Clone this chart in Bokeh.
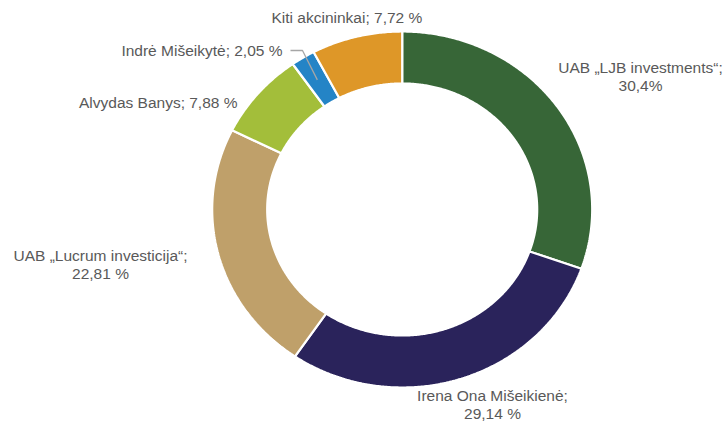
import numpy as np
from bokeh.plotting import figure
from bokeh.models import Range1d, ColumnDataSource
from bokeh.embed import file_html
from bokeh.resources import INLINE
from bokeh.core.properties import value

# ---- data ----
names = ["UAB „LJB investments“", "Irena Ona Mišeikienė", "UAB „Lucrum investicija“",
         "Alvydas Banys", "Indrė Mišeikytė", "Kiti akcininkai"]
shares = [30.4, 29.14, 22.81, 7.88, 2.05, 7.72]
label_texts = ["UAB „LJB investments“;\n30,4%", "Irena Ona Mišeikienė;\n29,14 %",
               "UAB „Lucrum investicija“;\n22,81 %", "Alvydas Banys; 7,88 %",
               "Indrė Mišeikytė; 2,05 %", "Kiti akcininkai; 7,72 %"]
colors = ["#376637", "#2A235B", "#BFA06A", "#A3BE3A", "#2484C6", "#DE9728"]

# ---- layout (pixel-like units, ring centre at origin) ----
W, H = 727, 424
CX, CY = 401.7, 209.0
RX_OUT, RY_OUT = 190.0, 178.0
RX_IN, RY_IN = 135.0, 126.0
# label anchors (page px) and alignment
lab_px = [(640, 76), (492, 404), (100, 264), (237, 102), (282, 50), (271, 17)]
lab_align = ["center", "center", "center", "right", "right", "left"]

p = figure(width=W, height=H, output_backend="svg", toolbar_location=None,
           x_range=Range1d(-CX, W - CX), y_range=Range1d(CY - H, CY),
           min_border=0)
p.axis.visible = False
p.grid.visible = False
p.outline_line_color = None
p.background_fill_color = "white"
p.border_fill_color = "white"

total = sum(shares)
frac = np.array(shares) / total
ends = np.cumsum(frac) * 2 * np.pi
starts = ends - frac * 2 * np.pi

xs, ys = [], []
for a0, a1 in zip(starts, ends):
    t = np.linspace(a0, a1, max(int((a1 - a0) * 120), 8))
    ox, oy = RX_OUT * np.sin(t), RY_OUT * np.cos(t)
    ix, iy = RX_IN * np.sin(t[::-1]), RY_IN * np.cos(t[::-1])
    xs.append(list(np.concatenate([ox, ix])))
    ys.append(list(np.concatenate([oy, iy])))

src = ColumnDataSource(dict(xs=xs, ys=ys, color=colors, name=names, share=shares))
p.patches("xs", "ys", source=src, fill_color="color", line_color="white", line_width=2.2)

# leader line for the small slice (Indrė)
k = 4
mid = (starts[k] + ends[k]) / 2
mx = (RX_OUT + RX_IN) / 2 * np.sin(mid)
my = (RY_OUT + RY_IN) / 2 * np.cos(mid)
p.line([mx, 302 - CX, 290 - CX], [my, CY - 50, CY - 50], line_color="#A6A6A6", line_width=1.3)

lx = [px - CX for px, py in lab_px]
ly = [CY - py for px, py in lab_px]
lsrc = ColumnDataSource(dict(x=lx, y=ly, text=label_texts, align=lab_align))
p.text("x", "y", text="text", source=lsrc, text_align="align", text_baseline="middle",
       text_font=value("Liberation Sans"), text_font_size="15.5px", text_color="#595959",
       text_line_height=1.03)

open("out.html", "w").write(file_html(p, INLINE))
